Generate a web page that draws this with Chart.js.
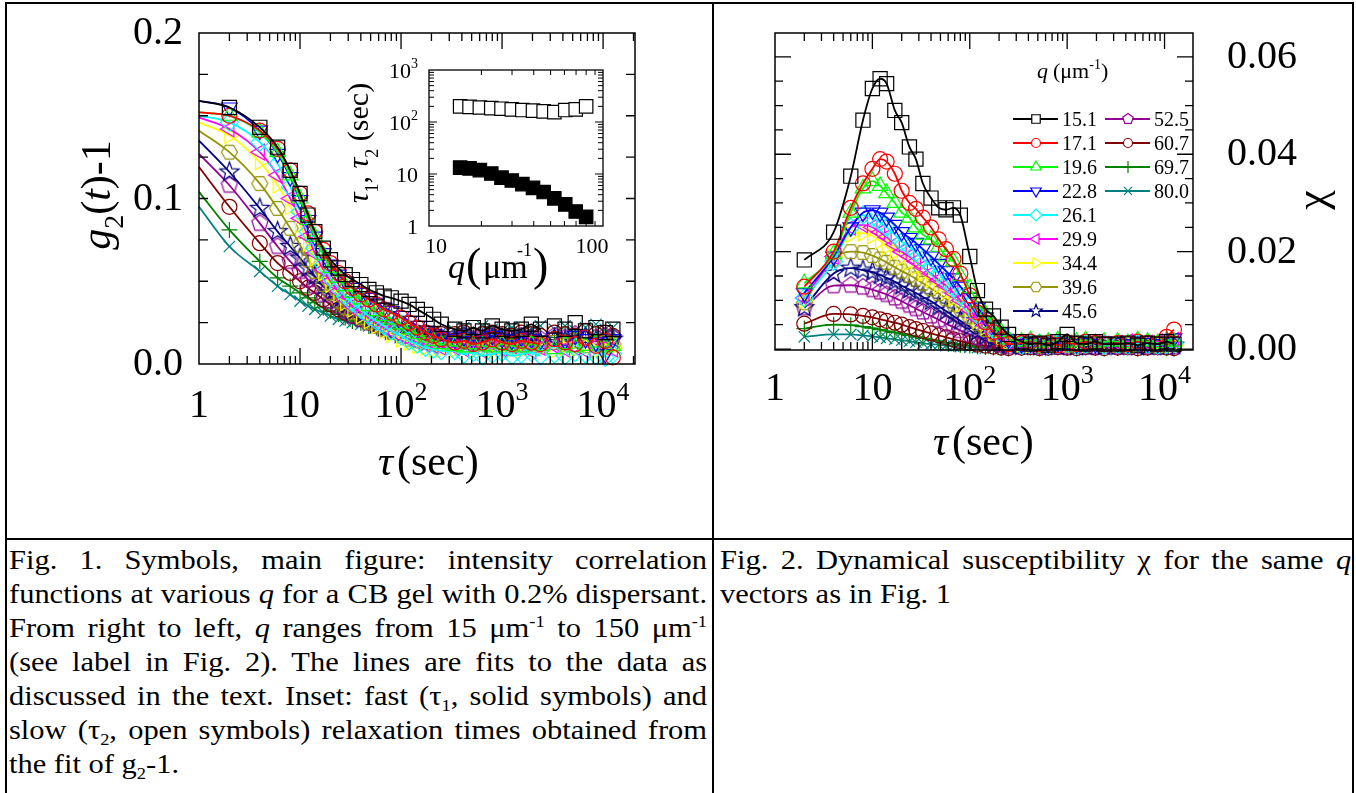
<!DOCTYPE html>
<html>
<head>
<meta charset="utf-8">
<script src="https://cdn.jsdelivr.net/npm/chart.js@4.4.1/dist/chart.umd.min.js"></script>
<style>
  body { margin: 0; width: 1356px; height: 793px; overflow: hidden; position: relative; background: #fff;
         font-family: "Liberation Serif", "Times New Roman", serif; color: #000; }
  .ln { position: absolute; background: #000; }
  canvas { position: absolute; }
  .cap { position: absolute; top: 543px; font-family: "Liberation Serif"; font-size: 26.5px; line-height: 34px;
         transform: scaleX(1.15); transform-origin: 0 0; white-space: nowrap; }
  .cap div { text-align: justify; text-align-last: justify; }
  .cap div.last { text-align: left; text-align-last: left; }
  .cap sup, .cap sub { font-size: 16px; line-height: 0; }
</style>
</head>
<body>
<div class="ln" style="left:5px;top:2px;width:1349px;height:2px"></div>
<div class="ln" style="left:5px;top:2px;width:2px;height:791px"></div>
<div class="ln" style="left:712px;top:2px;width:2px;height:791px"></div>
<div class="ln" style="left:1352px;top:2px;width:2px;height:791px"></div>
<div class="ln" style="left:5px;top:538px;width:1349px;height:2px"></div>

<canvas id="main" width="712" height="538" style="left:0;top:0"></canvas>
<canvas id="inset" width="300" height="250" style="left:340px;top:50px"></canvas>
<canvas id="chi" width="639" height="537" style="left:713px;top:0"></canvas>

<div class="cap" style="left:9px;width:607px">
  <div>Fig. 1. Symbols, main figure: intensity correlation</div>
  <div>functions at various <i>q</i> for a CB gel with 0.2% dispersant.</div>
  <div>From right to left, <i>q</i> ranges from 15 μm<sup>-1</sup> to 150 μm<sup>-1</sup></div>
  <div>(see label in Fig. 2). The lines are fits to the data as</div>
  <div>discussed in the text. Inset: fast (τ<sub>1</sub>, solid symbols) and</div>
  <div>slow (τ<sub>2</sub>, open symbols) relaxation times obtained from</div>
  <div class="last">the fit of g<sub>2</sub>-1.</div>
</div>
<div class="cap" style="left:720px;width:549px">
  <div>Fig. 2. Dynamical susceptibility χ for the same <i>q</i></div>
  <div class="last">vectors as in Fig. 1</div>
</div>

<script>
// q values (legend labels)
const qLabels = ['15.1', '17.1', '19.6', '22.8', '26.1', '29.9', '34.4', '39.6', '45.6', '52.5', '60.7', '69.7', '80.0'];
const qValues = [15.1, 17.1, 19.6, 22.8, 26.1, 29.9, 34.4, 39.6, 45.6, 52.5, 60.7, 69.7, 80.0];

// inset: relaxation times (sec)
const tauFast = [13.3, 12.8, 11.9, 10.2, 8.5, 7.5, 6.4, 5.4, 4.5, 3.4, 2.6, 1.9, 1.5];
const tauSlow = [200, 195, 190, 185, 180, 175, 170, 165, 160, 155, 170, 175, 200];

// lag times of the data points (sec)
const tauData = [2, 4, 6, 8, 10, 12, 14, 17, 20, 24, 28, 33, 40, 48, 57, 68, 80, 100, 120, 145, 175, 210, 250,
  340, 420, 520, 640, 800, 1000, 1250, 1550, 1950, 2400,
  3300, 4200, 5300, 6700, 8500, 10500, 12500];

// fit value at tau = 1 s
const gStart = [0.159, 0.152, 0.152, 0.159, 0.150, 0.149, 0.146, 0.141, 0.135, 0.127, 0.119, 0.104, 0.095];

// g2(t)-1
const g15_1 = [.155,.143,.131,.117,.103,.090,.080,.070,.063,.058,.054,.051,.048,.045,.043,.041,.040,.038,.036,.033,.030,.027,.024,
  .021,.020,.022,.020,.023,.021,.020,.021,.024,.021, .023,.021,.025,.020,.022,.019,.021];
const g17_1 = [.150,.141,.130,.117,.103,.091,.080,.069,.061,.055,.050,.046,.042,.039,.036,.033,.031,.028,.025,.022,.019,.017,.015,
  .013,.014,.012,.013,.015,.013,.012,.014,.013,.012, .015,.013,.012,.016,.011,.014,.004];
const g19_6 = [.150,.140,.128,.114,.100,.087,.077,.066,.058,.052,.047,.043,.039,.035,.032,.029,.027,.024,.021,.018,.016,.014,.012,
  .011,.010,.012,.011,.010,.012,.011,.010,.012,.011, .009,.012,.010,.011,.013,.010,.011];
const g22_8 = [.155,.141,.127,.113,.099,.087,.077,.067,.060,.054,.050,.046,.043,.040,.037,.034,.032,.029,.026,.023,.020,.018,.016,
  .015,.016,.014,.015,.017,.015,.014,.016,.015,.014, .016,.014,.017,.015,.013,.006,.015];
const g26_1 = [.146,.134,.121,.107,.092,.080,.070,.060,.052,.046,.041,.037,.033,.029,.026,.023,.020,.017,.014,.012,.010,.009,.008,
  .008,.006,.007,.005,.006,.007,.005,.006,.007,.005, .006,.005,.007,.006,.005,.004,.006];
const g29_9 = [.142,.128,.114,.100,.088,.077,.067,.057,.050,.044,.039,.035,.031,.028,.025,.022,.020,.017,.015,.013,.012,.011,.010,
  .010,.009,.011,.008,.010,.009,.011,.010,.008,.010, .011,.009,.010,.008,.011,.010,.009];
const g34_4 = [.138,.122,.108,.095,.084,.073,.064,.055,.048,.042,.037,.033,.029,.026,.023,.020,.018,.015,.013,.011,.010,.009,.009,
  .009,.010,.008,.009,.008,.010,.009,.008,.010,.009, .008,.010,.009,.011,.008,.009,.010];
const g39_6 = [.128,.109,.094,.082,.072,.063,.056,.048,.043,.038,.034,.031,.028,.025,.023,.021,.019,.017,.015,.014,.013,.012,.012,
  .012,.013,.011,.012,.013,.012,.011,.013,.012,.011, .013,.012,.014,.011,.012,.013,.012];
const g45_6 = [.116,.094,.080,.071,.064,.058,.053,.047,.043,.039,.035,.032,.029,.026,.024,.022,.020,.018,.017,.016,.015,.015,.014,
  .014,.015,.013,.014,.015,.014,.013,.015,.014,.013, .015,.014,.013,.016,.014,.013,.015];
const g52_5 = [.108,.085,.071,.062,.056,.051,.047,.042,.038,.035,.032,.029,.027,.025,.023,.021,.020,.019,.018,.017,.017,.016,.016,
  .016,.017,.015,.016,.017,.016,.015,.017,.016,.015, .017,.016,.018,.015,.016,.017,.016];
const g60_7 = [.095,.073,.061,.055,.050,.046,.043,.039,.036,.033,.031,.029,.027,.025,.024,.022,.021,.020,.020,.019,.019,.018,.018,
  .018,.019,.017,.018,.019,.018,.017,.019,.018,.017, .019,.018,.017,.020,.018,.019,.017];
const g69_7 = [.081,.062,.052,.047,.043,.040,.037,.034,.032,.030,.028,.026,.025,.023,.022,.021,.020,.019,.018,.018,.017,.017,.017,
  .017,.016,.018,.017,.016,.018,.017,.016,.018,.017, .016,.018,.017,.016,.018,.017,.016];
const g80_0 = [.071,.056,.047,.042,.038,.035,.033,.031,.029,.027,.026,.025,.024,.023,.022,.021,.021,.020,.020,.020,.019,.019,.019,
  .020,.022,.019,.023,.021,.020,.022,.019,.021,.023, .021,.023,.020,.022,.024,.021,.022];

// dynamical susceptibility chi
const c15_1 = [.0183,.024,.0355,.047,.0535,.0555,.0545,.049,.0465,.0415,.039,.034,.031,.029,.0286,.029,.0275,.019,.012,.0082,.0068,.0045,.003,
  .0015,.001,.0012,.0008,.0015,.003,.0012,.001,.0015,.001, .001,.0012,.0008,.0012,.001,.0015,.001];
const c17_1 = [.0128,.020,.029,.034,.037,.039,.0385,.036,.0325,.030,.0288,.027,.025,.0225,.0205,.0185,.0155,.011,.0075,.0055,.0035,.002,.001,
  .0012,.0015,.001,.0012,.0008,.0012,.001,.0015,.0012,.001, .0012,.001,.0015,.0012,.001,.0025,.004];
const c19_6 = [.0135,.0195,.028,.033,.0345,.0335,.032,.030,.028,.027,.025,.0235,.0225,.021,.019,.018,.015,.0125,.0095,.0072,.005,.0035,.002,
  .0015,.0018,.0012,.0015,.0018,.0012,.0015,.0018,.0012,.0015, .0015,.0012,.0018,.0015,.0012,.0018,.0015];
const c22_8 = [.0115,.019,.025,.028,.0285,.028,.027,.0255,.024,.0228,.0218,.0205,.019,.0175,.016,.0145,.0128,.0105,.0085,.0065,.0048,.0032,.002,
  .001,.0012,.0015,.001,.0012,.0015,.001,.0012,.001,.0015, .0012,.001,.0015,.0012,.001,.0015,.0022];
const c26_1 = [.0105,.018,.025,.0275,.027,.026,.025,.0235,.022,.021,.0198,.0185,.017,.0155,.014,.0125,.011,.009,.007,.0055,.004,.0028,.0018,
  .0008,.001,.0012,.0008,.001,.0012,.0008,.001,.0012,.0008, .001,.0008,.0012,.001,.0008,.001,.0012];
const c29_9 = [.0105,.019,.025,.0255,.025,.024,.023,.0215,.020,.019,.018,.0168,.0155,.0142,.013,.0115,.010,.008,.0062,.0048,.0035,.0024,.0015,
  .0012,.001,.0008,.0012,.001,.0012,.0008,.001,.0012,.001, .0012,.0015,.001,.0012,.0015,.001,.0018];
const c34_4 = [.010,.019,.0235,.0238,.0232,.0222,.021,.020,.0188,.0178,.0168,.0156,.0143,.013,.0118,.0105,.0092,.0074,.0058,.0045,.0033,.0023,.0015,
  .001,.0008,.001,.0012,.0008,.001,.0012,.0008,.001,.0012, .001,.0012,.0008,.001,.0012,.001,.0008];
const c39_6 = [.0095,.0185,.020,.0198,.0192,.0185,.0178,.0168,.016,.0152,.0144,.0135,.0124,.0114,.0103,.0092,.0082,.0066,.0052,.004,.003,.002,.0013,
  .0008,.001,.0006,.0008,.001,.0008,.0006,.0008,.001,.0008, .0008,.0006,.001,.0008,.0006,.0008,.001];
const c45_6 = [.0085,.0155,.0166,.0162,.0158,.0152,.0146,.0138,.013,.0122,.0115,.0107,.0098,.0088,.0078,.0068,.0058,.0046,.0036,.0027,.002,.0014,.0009,
  .0006,.0008,.0005,.0008,.0006,.0008,.0005,.0006,.0008,.0006, .0006,.0008,.0005,.0006,.0008,.0006,.0008];
const c52_5 = [.0085,.013,.0131,.0127,.0122,.0117,.0112,.0105,.0098,.009,.0083,.0076,.0068,.006,.0052,.0045,.0038,.003,.0023,.0017,.0012,.0008,.0005,
  .0005,.0006,.0004,.0006,.0005,.0004,.0006,.0005,.0004,.0006, .0005,.0004,.0006,.0005,.0004,.0006,.0005];
const c60_7 = [.0052,.0072,.0071,.0068,.0065,.0061,.0058,.0054,.005,.0045,.0041,.0037,.0032,.0028,.0024,.002,.0016,.0012,.0009,.0007,.0005,.0003,.0002,
  .0003,.0004,.0002,.0003,.0004,.0003,.0002,.0004,.0003,.0002, .0003,.0004,.0002,.0003,.0004,.0003,.0002];
const c69_7 = [.0042,.005,.0049,.0046,.0043,.004,.0037,.0034,.0031,.0028,.0025,.0022,.0019,.0016,.0013,.0011,.0009,.0007,.0005,.0004,.0003,.0002,.0001,
  .0002,.0003,.0001,.0002,.0003,.0002,.0001,.0003,.0002,.0001, .0002,.0003,.0001,.0002,.0003,.0002,.0001];
const c80_0 = [.0025,.003,.003,.0028,.0026,.0024,.0022,.002,.0018,.0016,.0014,.0012,.001,.0009,.0007,.0006,.0005,.0004,.0003,.0002,.0002,.0001,.0001,
  .0001,.0002,.0001,.0001,.0002,.0001,.0002,.0001,.0001,.0002, .0001,.0002,.0001,.0001,.0002,.0001,.0001];

// tick labels
const mainYTicks = [0, 0.1, 0.2];
const mainYLabels = ['0.0', '0.1', '0.2'];
const decadeTicks = [1, 10, 100, 1000, 10000];
const decadeBase = ['1', '10', '10', '10', '10'];
const decadeExp = ['', '', '2', '3', '4'];
const chiYTicks = [0, 0.02, 0.04, 0.06];
const chiYLabels = ['0.00', '0.02', '0.04', '0.06'];
const insetYTicks = [1, 10, 100, 1000];
const insetYBase = ['1', '10', '10', '10'];
const insetYExp = ['', '', '2', '3'];

const gSeries = [g15_1, g17_1, g19_6, g22_8, g26_1, g29_9, g34_4, g39_6, g45_6, g52_5, g60_7, g69_7, g80_0];
const chiSeries = [c15_1, c17_1, c19_6, c22_8, c26_1, c29_9, c34_4, c39_6, c45_6, c52_5, c60_7, c69_7, c80_0];

// ---- styles ----
const colors = ['#000000', '#ff0000', '#00ff00', '#0000ff', '#00ffff', '#ff00ff', '#ffff00',
  '#949400', '#000080', '#940094', '#800000', '#008000', '#008080'];
const shapes = ['rect', 'circle', 'triangle', 'triangle', 'rectRot', 'triangle', 'triangle',
  'hex', 'star', 'pent', 'circle', 'cross', 'crossRot'];
const rots = [0, 0, 0, 180, 0, 270, 90, 0, 0, 0, 0, 0, 0];
const bigR = { rect: 10, circle: 7.5, triangle: 9, rectRot: 9, hex: 8, star: 10, pent: 8.5, cross: 8, crossRot: 8 };
const smallR = { rect: 6, circle: 4.5, triangle: 6, rectRot: 6, hex: 5.5, star: 6.5, pent: 5.5, cross: 6, crossRot: 5.5 };

const SERIF = '"Liberation Serif", "Times New Roman", serif';
const F = (px, st) => (st ? st + ' ' : '') + px + 'px ' + SERIF;

function shapePath(ctx, s, x, y, r, rot) {
  ctx.beginPath();
  if (s === 'circle') { ctx.arc(x, y, r, 0, Math.PI * 2); return; }
  if (s === 'rect') { const h = r * Math.SQRT1_2; ctx.rect(x - h, y - h, 2 * h, 2 * h); return; }
  if (s === 'cross') { ctx.moveTo(x, y - r); ctx.lineTo(x, y + r); ctx.moveTo(x - r, y); ctx.lineTo(x + r, y); return; }
  if (s === 'crossRot') {
    const h = r * Math.SQRT1_2;
    ctx.moveTo(x - h, y - h); ctx.lineTo(x + h, y + h); ctx.moveTo(x - h, y + h); ctx.lineTo(x + h, y - h); return;
  }
  let n = 3, start = rot || 0, inner = 1;
  if (s === 'rectRot') n = 4;
  if (s === 'hex') { n = 6; start = 90; }
  if (s === 'pent') n = 5;
  if (s === 'star') { n = 10; inner = 0.42; }
  for (let k = 0; k < n; k++) {
    const a = (start + k * 360 / n) * Math.PI / 180;
    const rr = (s === 'star' && k % 2) ? r * inner : r;
    const px = x + Math.sin(a) * rr, py = y - Math.cos(a) * rr;
    if (k === 0) ctx.moveTo(px, py); else ctx.lineTo(px, py);
  }
  ctx.closePath();
}

function markerImage(s, color, r, lw) {
  const c = document.createElement('canvas');
  const size = Math.ceil(2 * r + 2 * lw + 2);
  c.width = size; c.height = size;
  const g = c.getContext('2d');
  g.strokeStyle = color; g.lineWidth = lw;
  shapePath(g, s, size / 2, size / 2, r, 0);
  g.stroke();
  return c;
}

function pointStyleFor(i) {
  const s = shapes[i];
  if (s === 'hex' || s === 'star' || s === 'pent') return markerImage(s, colors[i], bigR[s], 1.2);
  return s;
}

function drawRuns(ctx, parts, x, y, align) {
  let w = 0;
  parts.forEach(p => { ctx.font = p.f; p.w = ctx.measureText(p.t).width; w += p.w + (p.gap || 0); });
  let cx = align === 'center' ? x - w / 2 : align === 'right' ? x - w : x;
  ctx.textAlign = 'left';
  parts.forEach(p => { ctx.font = p.f; ctx.fillText(p.t, cx, y + (p.dy || 0)); cx += p.w + (p.gap || 0); });
}

function logTicks(min, max) {
  const out = [];
  for (let e = Math.floor(Math.log10(min)); e <= Math.ceil(Math.log10(max)); e++) {
    for (let m = 1; m <= 9; m++) {
      const v = m * Math.pow(10, e);
      if (v > min * 1.0001 && v < max * 0.9999) out.push({ v, major: m === 1 });
    }
  }
  return out;
}
function linTicks(min, max, step, every) {
  const out = [];
  for (let k = 0; k * step <= max + 1e-9; k++) {
    const v = k * step;
    if (v > min + 1e-9 && v < max - 1e-9) out.push({ v, major: k % every === 0 });
  }
  return out;
}

function makeBox(cfg) {
  return {
    id: 'box_' + cfg.name,
    afterDatasetsDraw(chart) {
      const ctx = chart.ctx, a = chart.chartArea, xs = chart.scales.x, ys = chart.scales.y;
      ctx.save();
      ctx.strokeStyle = '#000';
      ctx.beginPath();
      cfg.xt.forEach(t => {
        const p = xs.getPixelForValue(t.v);
        const L = t.major ? cfg.xMaj : cfg.xMin;
        ctx.moveTo(p, a.bottom); ctx.lineTo(p, a.bottom - L);
        ctx.moveTo(p, a.top); ctx.lineTo(p, a.top + L);
      });
      cfg.yt.forEach(t => {
        const p = ys.getPixelForValue(t.v);
        const L = t.major ? cfg.yMaj : cfg.yMin;
        ctx.moveTo(a.left, p); ctx.lineTo(a.left + L, p);
        ctx.moveTo(a.right, p); ctx.lineTo(a.right - L, p);
      });
      ctx.lineWidth = cfg.tw;
      ctx.stroke();
      ctx.lineWidth = cfg.lw;
      ctx.strokeRect(a.left, a.top, a.right - a.left, a.bottom - a.top);
      ctx.fillStyle = '#000';
      ctx.textBaseline = 'alphabetic';
      cfg.draw(ctx, xs, ys, a);
      ctx.restore();
    }
  };
}

const common = {
  responsive: false, animation: false, events: [], devicePixelRatio: 1,
  plugins: { legend: { display: false }, tooltip: { enabled: false } }
};

// ---------- Fig. 1 main ----------
const mainSets = gSeries.map((vals, i) => ({
  data: [{ x: 1, y: gStart[i] }].concat(tauData.map((t, k) => ({ x: t, y: vals[k] }))),
  borderColor: colors[i], borderWidth: 1.8,
  pointStyle: pointStyleFor(i), pointRotation: rots[i],
  pointRadius: c => c.dataIndex === 0 ? 0 : bigR[shapes[i]],
  pointBorderColor: colors[i], pointBackgroundColor: 'rgba(0,0,0,0)', pointBorderWidth: 1.2,
  cubicInterpolationMode: 'monotone', fill: false, clip: false,
  segment: { borderColor: c => c.p1.parsed.x > 3000 ? 'rgba(0,0,0,0)' : undefined }
}));

new Chart(document.getElementById('main'), {
  type: 'line',
  data: { datasets: mainSets },
  options: Object.assign({}, common, {
    layout: { padding: { left: 199, top: 33, right: 77, bottom: 174 } },
    scales: {
      x: { type: 'logarithmic', min: 1, max: 20700, display: false },
      y: { type: 'linear', min: 0, max: 0.2, display: false }
    }
  }),
  plugins: [makeBox({
    name: 'main', lw: 1.5, tw: 1.3,
    xt: logTicks(1, 20700), yt: linTicks(0, 0.2, 0.025, 4),
    xMaj: 16, xMin: 8, yMaj: 9, yMin: 9,
    draw(ctx, xs, ys, a) {
      mainYTicks.forEach((v, k) => {
        drawRuns(ctx, [{ t: mainYLabels[k], f: F(40) }], 183, ys.getPixelForValue(v) + 11, 'right');
      });
      decadeTicks.forEach((v, k) => {
        const parts = [{ t: decadeBase[k], f: F(40) }];
        if (decadeExp[k]) parts.push({ t: decadeExp[k], f: F(26), dy: -17 });
        drawRuns(ctx, parts, xs.getPixelForValue(v), 417, 'center');
      });
      drawRuns(ctx, [{ t: 'τ', f: F(42, 'italic'), gap: 4 }, { t: '(sec)', f: F(42) }], 378, 475, 'left');
      ctx.save();
      ctx.translate(110, 195);
      ctx.rotate(-Math.PI / 2);
      drawRuns(ctx, [
        { t: 'g', f: F(42, 'italic') }, { t: '2', f: F(28), dy: 13 },
        { t: '(', f: F(42) }, { t: 't', f: F(42, 'italic') }, { t: ')-1', f: F(42) }
      ], 0, 0, 'center');
      ctx.restore();
    }
  })]
});

// ---------- Fig. 1 inset ----------
new Chart(document.getElementById('inset'), {
  type: 'scatter',
  data: {
    datasets: [
      { data: qValues.map((q, i) => ({ x: q, y: tauSlow[i] })), pointStyle: 'rect', pointRadius: 9.5,
        pointBackgroundColor: '#ffffff', pointBorderColor: '#000', pointBorderWidth: 1.2, clip: false },
      { data: qValues.map((q, i) => ({ x: q, y: tauFast[i] })), pointStyle: 'rect', pointRadius: 9.5,
        pointBackgroundColor: '#000', pointBorderColor: '#000', pointBorderWidth: 1.2, clip: false }
    ]
  },
  options: Object.assign({}, common, {
    layout: { padding: { left: 89, top: 20, right: 37, bottom: 74 } },
    scales: {
      x: { type: 'logarithmic', min: 10, max: 100, display: false },
      y: { type: 'logarithmic', min: 1, max: 1000, display: false }
    }
  }),
  plugins: [makeBox({
    name: 'inset', lw: 1.3, tw: 1,
    xt: logTicks(10, 100), yt: logTicks(1, 1000),
    xMaj: 8, xMin: 5, yMaj: 8, yMin: 5,
    draw(ctx, xs, ys, a) {
      insetYTicks.forEach((v, k) => {
        const parts = [{ t: insetYBase[k], f: F(22) }];
        if (insetYExp[k]) parts.push({ t: insetYExp[k], f: F(14), dy: -10 });
        drawRuns(ctx, parts, 78, ys.getPixelForValue(v) + 8, 'right');
      });
      drawRuns(ctx, [{ t: '10', f: F(22) }], 96, 203, 'center');
      drawRuns(ctx, [{ t: '100', f: F(22) }], 252, 203, 'center');
      drawRuns(ctx, [{ t: 'q', f: F(34, 'italic') }], 108, 228, 'left');
      drawRuns(ctx, [{ t: '(', f: F(46) }], 126, 230, 'left');
      drawRuns(ctx, [{ t: 'μm', f: F(34) }], 143, 228, 'left');
      drawRuns(ctx, [{ t: '-1', f: F(18) }], 177, 206, 'left');
      drawRuns(ctx, [{ t: ')', f: F(46) }], 193, 230, 'left');
      ctx.save();
      ctx.translate(28, 93);
      ctx.rotate(-Math.PI / 2);
      drawRuns(ctx, [
        { t: 'τ', f: F(30, 'italic') }, { t: '1', f: F(18), dy: 10 }, { t: ', ', f: F(30) },
        { t: 'τ', f: F(30, 'italic') }, { t: '2', f: F(18), dy: 10 }, { t: ' (sec)', f: F(30) }
      ], 0, 0, 'center');
      ctx.restore();
    }
  })]
});

// ---------- Fig. 2 chi ----------
const chiSets = chiSeries.map((vals, i) => ({
  data: tauData.map((t, k) => ({ x: t, y: vals[k] })),
  borderColor: colors[i], borderWidth: 1.8,
  pointStyle: pointStyleFor(i), pointRotation: rots[i], pointRadius: bigR[shapes[i]],
  pointBorderColor: colors[i], pointBackgroundColor: 'rgba(0,0,0,0)', pointBorderWidth: 1.2,
  cubicInterpolationMode: 'monotone', fill: false, clip: false
}));

new Chart(document.getElementById('chi'), {
  type: 'line',
  data: { datasets: chiSets },
  options: Object.assign({}, common, {
    layout: { padding: { left: 62, top: 33, right: 159, bottom: 187 } },
    scales: {
      x: { type: 'logarithmic', min: 1, max: 19600, display: false },
      y: { type: 'linear', min: -0.0002, max: 0.0649, display: false }
    }
  }),
  plugins: [makeBox({
    name: 'chi', lw: 1.5, tw: 1.3,
    xt: logTicks(1, 19600), yt: linTicks(-0.0002, 0.0649, 0.005, 4).concat([{ v: 0, major: true }]),
    xMaj: 16, xMin: 8, yMaj: 16, yMin: 8,
    draw(ctx, xs, ys, a) {
      chiYTicks.forEach((v, k) => {
        drawRuns(ctx, [{ t: chiYLabels[k], f: F(40) }], 514, ys.getPixelForValue(v) + 11, 'left');
      });
      decadeTicks.forEach((v, k) => {
        const parts = [{ t: decadeBase[k], f: F(40) }];
        if (decadeExp[k]) parts.push({ t: decadeExp[k], f: F(26), dy: -17 });
        drawRuns(ctx, parts, xs.getPixelForValue(v), 400, 'center');
      });
      drawRuns(ctx, [{ t: 'τ', f: F(42, 'italic'), gap: 4 }, { t: '(sec)', f: F(42) }], 220, 455, 'left');
      ctx.save();
      ctx.translate(601, 200);
      ctx.rotate(-Math.PI / 2);
      ctx.textBaseline = 'middle';
      drawRuns(ctx, [{ t: 'χ', f: F(44) }], 0, 0, 'center');
      ctx.restore();
      ctx.textBaseline = 'alphabetic';
      // legend
      drawRuns(ctx, [{ t: 'q', f: F(22, 'italic'), gap: 5 }, { t: '(μm', f: F(22) },
        { t: '-1', f: F(14), dy: -9 }, { t: ')', f: F(22) }], 324, 78, 'left');
      qLabels.forEach((lab, i) => {
        const col = i < 9 ? 0 : 1;
        const row = i < 9 ? i : i - 9;
        const x1 = col ? 392 : 300, y = 119 + 24 * row;
        ctx.strokeStyle = colors[i];
        ctx.lineWidth = 2;
        ctx.beginPath(); ctx.moveTo(x1, y); ctx.lineTo(x1 + 45, y); ctx.stroke();
        ctx.lineWidth = 1.2;
        shapePath(ctx, shapes[i], x1 + 23, y, smallR[shapes[i]], rots[i]);
        ctx.fillStyle = '#fff';
        if (shapes[i] !== 'cross' && shapes[i] !== 'crossRot') ctx.fill();
        ctx.stroke();
        ctx.fillStyle = '#000';
        drawRuns(ctx, [{ t: lab, f: F(20) }], x1 + 49, y + 7, 'left');
      });
    }
  })]
});
</script>
</body>
</html>
